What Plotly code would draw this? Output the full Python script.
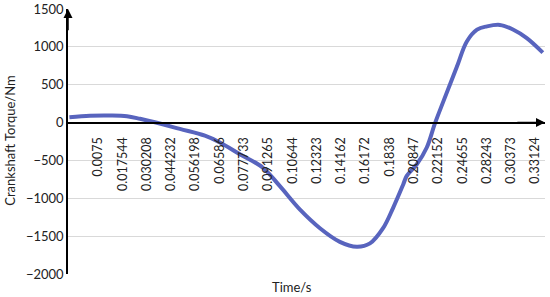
import plotly.graph_objects as go

# Category tick labels (time, s) shown on the x axis
tick_labels = ["0.0075", "0.017544", "0.030208", "0.044232", "0.056198", "0.06586",
               "0.077733", "0.091265", "0.10644", "0.12323", "0.14162", "0.16172",
               "0.1838", "0.20847", "0.22152", "0.24655", "0.28243", "0.30373", "0.33124"]

# Sample positions along the category axis (in units of labelled categories)
sample_pos = [-1.19, -0.34, 0.48, 1.18, 1.72, 2.33, 3.36, 4.39, 5.01, 5.83, 6.78, 7.48,
              8.31, 9.13, 9.95, 10.65, 11.19, 11.73, 12.14, 12.56, 12.70, 13.12, 13.53,
              13.86, 14.23, 14.77, 15.18, 15.60, 16.01, 16.54, 17.08, 17.65, 18.31]
# Crankshaft torque, Nm
torque = [70, 90, 93, 84, 50, 4, -84, -173, -262, -418, -596, -840,
          -1150, -1395, -1575, -1640, -1596, -1395, -1129, -817, -707, -551, -329,
          -17, 293, 737, 1071, 1227, 1271, 1290, 1230, 1116, 924]

y_min, y_max = -2000, 1500
x_min, x_max = -1.248, 18.40

FONT = "Lato"

fig = go.Figure()
fig.add_trace(go.Scatter(
    x=sample_pos, y=torque, mode="lines",
    line=dict(color="rgb(88,100,190)", width=4, shape="spline", smoothing=1),
    showlegend=False, hoverinfo="skip",
))

fig.update_layout(
    width=550, height=297,
    margin=dict(l=68, r=5, t=9, b=23, autoexpand=False),
    paper_bgcolor="white", plot_bgcolor="white",
    font=dict(family=FONT, size=13, color="#222222"),
    xaxis=dict(
        range=[x_min, x_max], tickmode="array",
        tickvals=list(range(len(tick_labels))), ticktext=tick_labels,
        tickangle=-90, ticks="", showgrid=False, zeroline=False,
        showline=True, linecolor="black", linewidth=1.5,
        anchor="free", position=(0 - y_min) / (y_max - y_min),
        tickfont=dict(family=FONT, size=12.5, color="#222222"),
        ticklabelstandoff=9, automargin=False,
    ),
    yaxis=dict(
        range=[y_min, y_max], dtick=500, tick0=0,
        showgrid=True, gridcolor="#d9d9d9", gridwidth=1,
        zeroline=False, showline=True, linecolor="black", linewidth=1.5,
        ticks="", tickfont=dict(family=FONT, size=13, color="#222222"),
        automargin=False,
    ),
    annotations=[
        dict(x=x_max, y=0, ax=x_max - 1.2, ay=0, xref="x", yref="y",
             axref="x", ayref="y", text="", showarrow=True, arrowhead=2,
             arrowsize=1.2, arrowwidth=1.5, arrowcolor="black"),
        dict(x=x_min, y=y_max, ax=x_min, ay=y_max - 300, xref="x", yref="y",
             axref="x", ayref="y", text="", showarrow=True, arrowhead=2,
             arrowsize=1.2, arrowwidth=1.5, arrowcolor="black"),
        dict(x=0.47, y=-0.048, xref="paper", yref="paper", text="Time/s",
             showarrow=False, font=dict(family=FONT, size=13, color="#222222"),
             xanchor="center", yanchor="middle"),
        dict(x=-0.1216, y=0.503, xref="paper", yref="paper",
             text="Crankshaft Torque/Nm", textangle=-90, showarrow=False,
             font=dict(family=FONT, size=13, color="#222222"),
             xanchor="center", yanchor="middle"),
    ],
)

fig.write_html("out.html", config={"displayModeBar": False},
               post_script="document.body.style.margin='0';document.body.style.overflow='hidden';")
